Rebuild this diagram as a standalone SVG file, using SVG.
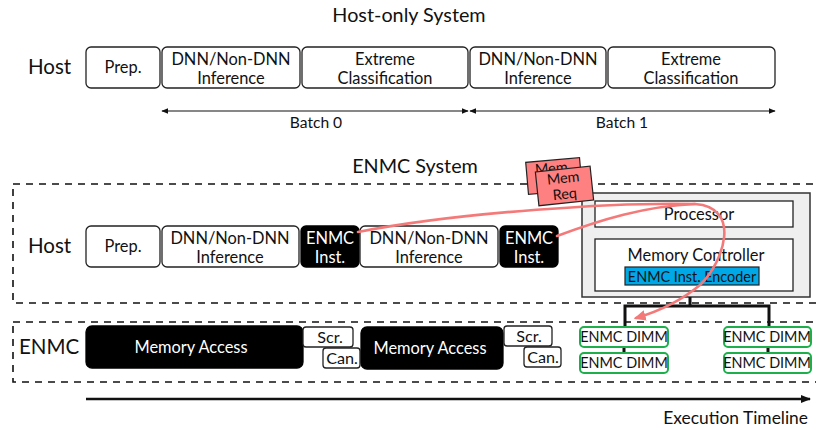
<svg xmlns="http://www.w3.org/2000/svg" width="816" height="430" viewBox="0 0 816 430">
  <style>
    text { font-family: "Lato", "Open Sans", sans-serif; fill: #111; }
    .title { font-size: 19.8px; text-anchor: middle; }
    .lane { font-size: 20.5px; }
    .lbl { font-size: 16.4px; text-anchor: middle; }
    .wt { fill: #fff; }
    .small { font-size: 14.4px; text-anchor: middle; }
    .tag { font-size: 16.2px; text-anchor: middle; }
    .box { fill: #fff; stroke: #222; stroke-width: 1.3; }
    .blk { fill: #000; stroke: #000; stroke-width: 1.3; }
    .dash { fill: none; stroke: #111; stroke-width: 1.6; stroke-dasharray: 7 6; }
    .tree { fill: none; stroke: #111; stroke-width: 3; }
    .dimm { fill: #fff; stroke: #1fae4c; stroke-width: 2; }
    .req { fill: #ff8080; stroke: #222; stroke-width: 1.2; }
    .flow { fill: none; stroke: #f47a7a; stroke-width: 2.6; stroke-linecap: round; }
    .thin { fill: none; stroke: #111; stroke-width: 1.2; }
  </style>
  <defs>
    <marker id="tip" viewBox="0 0 10 10" refX="9" refY="5" markerWidth="7" markerHeight="7" orient="auto-start-reverse" markerUnits="userSpaceOnUse">
      <path d="M0,1 L10,5 L0,9 z" fill="#111"/>
    </marker>
    <marker id="bigtip" viewBox="0 0 10 10" refX="9" refY="5" markerWidth="10" markerHeight="10" orient="auto" markerUnits="userSpaceOnUse">
      <path d="M0,1 L10,5 L0,9 z" fill="#111"/>
    </marker>
    <marker id="redtip" viewBox="0 0 10 10" refX="8" refY="5" markerWidth="12" markerHeight="12" orient="auto" markerUnits="userSpaceOnUse">
      <path d="M0,0.5 L10,5 L0,9.5 z" fill="#f47a7a"/>
    </marker>
  </defs>

  <!-- Host-only system -->
  <text class="title" x="409" y="22">Host-only System</text>
  <text class="lane" x="28" y="74">Host</text>

  <g id="ho-prep"><rect class="box" x="86" y="47" width="74" height="41" rx="5"/><text class="lbl" x="123" y="73">Prep.</text></g>
  <g id="ho-dnn0"><rect class="box" x="162" y="47" width="138" height="41" rx="5"/><text class="lbl" x="231" y="65">DNN/Non-DNN</text><text class="lbl" x="231" y="84">Inference</text></g>
  <g id="ho-xc0"><rect class="box" x="302" y="47" width="166" height="41" rx="5"/><text class="lbl" x="385" y="65">Extreme</text><text class="lbl" x="385" y="84">Classification</text></g>
  <g id="ho-dnn1"><rect class="box" x="470" y="47" width="136" height="41" rx="5"/><text class="lbl" x="538" y="65">DNN/Non-DNN</text><text class="lbl" x="538" y="84">Inference</text></g>
  <g id="ho-xc1"><rect class="box" x="608" y="47" width="167" height="41" rx="5"/><text class="lbl" x="691" y="65">Extreme</text><text class="lbl" x="691" y="84">Classification</text></g>

  <g id="batches">
    <line class="thin" x1="162" y1="111" x2="468" y2="111" marker-start="url(#tip)" marker-end="url(#tip)"/>
    <line class="thin" x1="470" y1="111" x2="775" y2="111" marker-start="url(#tip)" marker-end="url(#tip)"/>
    <text class="lbl" x="316" y="128" style="font-size:15.6px">Batch 0</text>
    <text class="lbl" x="622" y="128" style="font-size:15.6px">Batch 1</text>
  </g>

  <!-- ENMC system -->
  <text class="title" x="415" y="173">ENMC System</text>
  <rect class="dash" x="13" y="184" width="810" height="119"/>
  <rect class="dash" x="13" y="322" width="810" height="60"/>
  <text class="lane" x="28" y="253">Host</text>
  <text class="lane" x="19" y="354">ENMC</text>

  <g id="en-prep"><rect class="box" x="86" y="226" width="74" height="41" rx="5"/><text class="lbl" x="123" y="252">Prep.</text></g>
  <g id="en-dnn0"><rect class="box" x="162" y="226" width="137" height="41" rx="5"/><text class="lbl" x="230" y="244">DNN/Non-DNN</text><text class="lbl" x="230" y="263">Inference</text></g>
  <g id="en-inst0"><rect class="blk" x="301" y="226" width="58" height="41" rx="5"/><text class="lbl wt" x="330" y="244">ENMC</text><text class="lbl wt" x="330" y="263">Inst.</text></g>
  <g id="en-dnn1"><rect class="box" x="360" y="226" width="138" height="41" rx="5"/><text class="lbl" x="429" y="244">DNN/Non-DNN</text><text class="lbl" x="429" y="263">Inference</text></g>
  <g id="en-inst1"><rect class="blk" x="500" y="226" width="58" height="41" rx="5"/><text class="lbl wt" x="529" y="244">ENMC</text><text class="lbl wt" x="529" y="263">Inst.</text></g>

  <g id="cpu">
    <rect x="582" y="193" width="228" height="104" fill="#efefef" stroke="#333" stroke-width="1.5"/>
    <rect class="box" x="595" y="201" width="198" height="26" stroke-width="1.5"/>
    <text class="lbl" x="699" y="220">Processor</text>
    <rect class="box" x="595" y="239" width="198" height="52" stroke-width="1.5"/>
    <text class="lbl" x="696" y="261">Memory Controller</text>
    <rect x="625" y="267" width="134" height="18" fill="#00a8e8" stroke="#222" stroke-width="1.2"/>
    <text class="small" x="692" y="281.5">ENMC Inst. Encoder</text>
  </g>

  <g id="channel">
    <path class="tree" d="M690,297 V306 M625,306 H769 M625,304.5 V327 M769,304.5 V327"/>
    <path class="tree" d="M624,347 V353 M768,347 V353" stroke-width="2"/>
  </g>

  <g id="dimm0"><rect class="dimm" x="580" y="327" width="88" height="20" rx="4"/><text class="small" x="624" y="342">ENMC DIMM</text></g>
  <g id="dimm1"><rect class="dimm" x="580" y="353" width="88" height="20" rx="4"/><text class="small" x="624" y="368">ENMC DIMM</text></g>
  <g id="dimm2"><rect class="dimm" x="724" y="327" width="87" height="20" rx="4"/><text class="small" x="767" y="342">ENMC DIMM</text></g>
  <g id="dimm3"><rect class="dimm" x="724" y="353" width="87" height="20" rx="4"/><text class="small" x="767" y="368">ENMC DIMM</text></g>

  <g id="mem0"><rect class="blk" x="86" y="326" width="217" height="42" rx="6"/><text class="lbl wt" x="191" y="353">Memory Access</text></g>
  <g id="scr0"><rect class="box" x="303" y="327" width="50" height="20" rx="3"/><text class="tag" x="330" y="343">Scr.</text></g>
  <g id="can0"><rect class="box" x="323" y="348" width="37" height="20" rx="3"/><text class="tag" x="342" y="364">Can.</text></g>
  <g id="mem1"><rect class="blk" x="361" y="327" width="142" height="42" rx="6"/><text class="lbl wt" x="430" y="354">Memory Access</text></g>
  <g id="scr1"><rect class="box" x="504" y="326" width="48" height="20" rx="3"/><text class="tag" x="529" y="342">Scr.</text></g>
  <g id="can1"><rect class="box" x="524" y="347" width="37" height="20" rx="3"/><text class="tag" x="543" y="363">Can.</text></g>

  <g id="timeline">
    <line x1="86" y1="399" x2="810" y2="399" stroke="#111" stroke-width="2.5" marker-end="url(#bigtip)"/>
    <text x="808" y="424" style="font-size:17.4px;text-anchor:end">Execution Timeline</text>
  </g>

  <!-- memory requests issued by the ENMC instructions -->
  <g id="memreq">
    <g transform="rotate(-5 554 176)">
      <rect class="req" x="527" y="160" width="54" height="32"/>
      <text class="small" x="552" y="173">Mem</text>
    </g>
    <g transform="rotate(-6 564 186)">
      <rect class="req" x="537" y="169" width="55" height="34"/>
      <text class="small" x="564" y="183">Mem</text>
      <text class="small" x="564" y="199">Req</text>
    </g>
  </g>

  <g id="connectors">
    <path class="flow" d="M358,232 C 460,212 620,202 695,204 C 742,207 724,262 700,285 C 682,300 660,311 636,318" marker-end="url(#redtip)"/>
    <path class="flow" d="M557,236 C 600,220 645,206 695,204"/>
  </g>
</svg>
